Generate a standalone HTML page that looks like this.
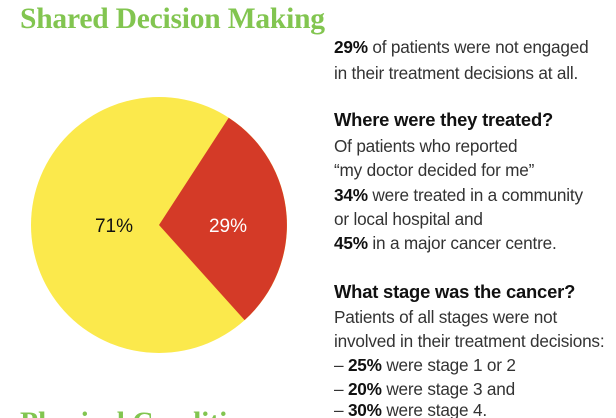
<!DOCTYPE html>
<html><head><meta charset="utf-8"><style>
html,body{margin:0;padding:0;background:#fff;width:616px;height:418px;overflow:hidden;position:relative}
.t{position:absolute;left:20px;top:3px;font-family:"Liberation Serif",serif;font-weight:bold;font-size:29.5px;color:#82c550;letter-spacing:-0.2px;white-space:nowrap}
.tx{position:absolute;left:334px;font-family:"Liberation Sans",sans-serif;font-size:17.2px;color:#333;white-space:nowrap;line-height:20px;letter-spacing:-0.2px}
.tx b{color:#111}
.h{font-weight:bold;font-size:18.4px;color:#111;letter-spacing:-0.2px}
.last{line-height:16px;height:16px;overflow:hidden}
</style></head><body>
<div class="t">Shared Decision Making</div>
<svg style="position:absolute;left:0;top:0" width="616" height="418">
<circle cx="159" cy="225" r="128" fill="#fbe94c"/>
<path d="M159 225 L228.7 117.7 A128 128 0 0 1 244.6 320.1 Z" fill="#d43a27"/>
<text x="114" y="232" font-family="Liberation Sans,sans-serif" font-size="19" fill="#111" text-anchor="middle">71%</text>
<text x="228" y="232" font-family="Liberation Sans,sans-serif" font-size="19" fill="#fff" text-anchor="middle">29%</text>
<text x="20" y="432" font-family="Liberation Serif,serif" font-weight="bold" font-size="29.5" fill="#82c550">Physical Conditi</text>
</svg>
<div class="tx" style="top:37px"><b>29%</b> of patients were not engaged</div>
<div class="tx" style="top:63px">in their treatment decisions at all.</div>
<div class="tx h" style="top:110px">Where were they treated?</div>
<div class="tx" style="top:136px">Of patients who reported</div>
<div class="tx" style="top:160px">“my doctor decided for me”</div>
<div class="tx" style="top:185px"><b>34%</b> were treated in a community</div>
<div class="tx" style="top:209px">or local hospital and</div>
<div class="tx" style="top:233px"><b>45%</b> in a major cancer centre.</div>
<div class="tx h" style="top:282px">What stage was the cancer?</div>
<div class="tx" style="top:307px">Patients of all stages were not</div>
<div class="tx" style="top:331px">involved in their treatment decisions:</div>
<div class="tx" style="top:355px">– <b>25%</b> were stage 1 or 2</div>
<div class="tx" style="top:379px">– <b>20%</b> were stage 3 and</div>
<div class="tx last" style="top:402px">– <b>30%</b> were stage 4.</div>
</body></html>
